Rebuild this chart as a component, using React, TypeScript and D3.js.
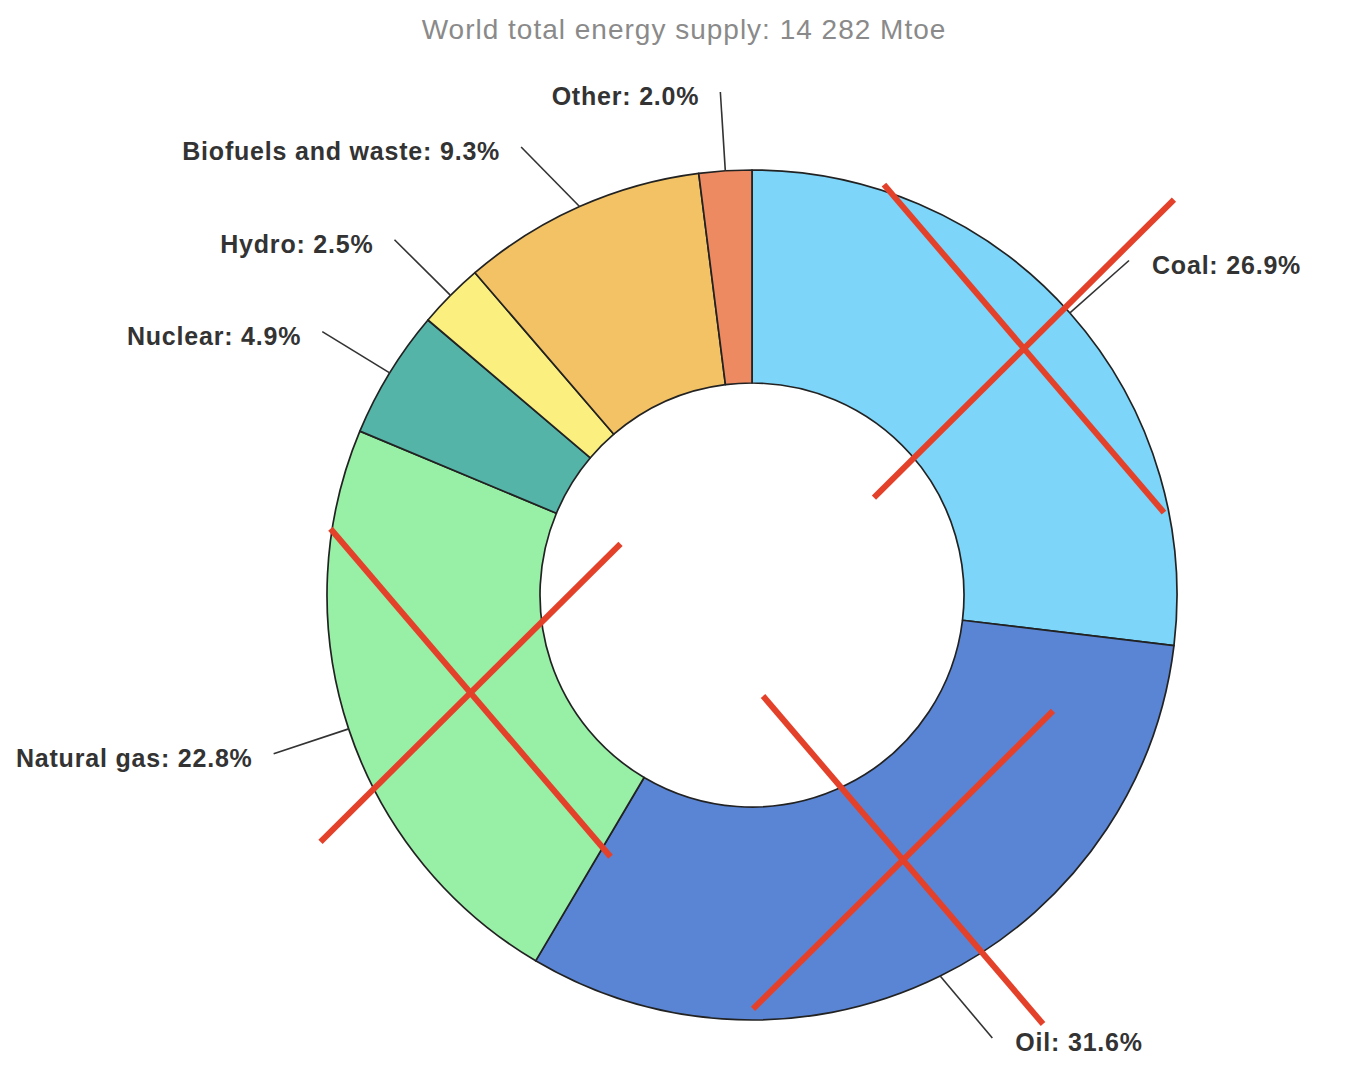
import React from "react";
import * as d3 from "d3";

const title = "World total energy supply: 14 282 Mtoe";
const categories = ["Coal", "Oil", "Natural gas", "Nuclear", "Hydro", "Biofuels and waste", "Other"];
const shares = [26.9, 31.6, 22.8, 4.9, 2.5, 9.3, 2.0];
const colors = ["#7dd5f9", "#5a85d4", "#98f0a6", "#54b4a8", "#fbf07f", "#f2c264", "#ee8a62"];
const crossedCategories = ["Coal", "Oil", "Natural gas"];
const crossRadii = [367, 305, 298];
const crossAngleShiftDeg = [-0.6, -3.4, -0.8];

const W = 1359;
const H = 1080;
const cx = 752;
const cy = 595;
const rOuter = 425;
const rInner = 212;
const rLeader = 504;
const labelSpacing = 55;
const maxLabelDy = 443;
const font = "'Liberation Sans', Arial, sans-serif";

export default function App() {
  const data = categories.map((c, i) => ({ name: c, value: shares[i], color: colors[i] }));
  const pie = d3.pie<any>().sort(null).value((d: any) => d.value);
  const arcs = pie(data);
  const arc = d3.arc<any>().innerRadius(rInner).outerRadius(rOuter);
  const fmt = d3.format(".1f");

  const polar = (a: number, r: number) => [Math.sin(a) * r, -Math.cos(a) * r];

  // leader end points: radial, then de-overlapped vertically along the circle
  const labels = arcs.map((a, i) => {
    const mid = (a.startAngle + a.endAngle) / 2;
    const [sx, sy] = polar(mid, rOuter);
    const [ex, ey] = polar(mid, rLeader);
    return { i, mid, sx, sy, ex, ey, right: Math.sin(mid) > 0 };
  });
  const onCircle = (l: any, y: number) => {
    l.ey = y;
    const dx = Math.sqrt(Math.max(0, rLeader * rLeader - y * y));
    l.ex = l.right ? dx : -dx;
  };
  labels.forEach((l) => {
    if (l.ey > maxLabelDy) onCircle(l, maxLabelDy);
  });
  [true, false].forEach((side) => {
    const group = labels.filter((l) => l.right === side).sort((a, b) => a.ey - b.ey);
    for (let k = 1; k < group.length; k++) {
      if (group[k].ey < group[k - 1].ey + labelSpacing) onCircle(group[k], group[k - 1].ey + labelSpacing);
    }
  });

  return (
    <svg width={W} height={H} style={{ position: "absolute", left: 0, top: 0, background: "#fff" }}>
      <rect width={W} height={H} fill="#fff" />
      <text x={684} y={39} textAnchor="middle" fontFamily={font} fontSize={28} letterSpacing={1.0} fill="#8a8a8a">
        {title}
      </text>
      <g transform={`translate(${cx},${cy})`}>
        {arcs.map((a, i) => (
          <path key={i} d={arc(a) as string} fill={a.data.color} stroke="#222" strokeWidth={1.7} strokeLinejoin="round" />
        ))}
        {labels.map((l) => {
          const d = arcs[l.i].data;
          return (
            <g key={"l" + l.i}>
              <line x1={l.sx} y1={l.sy} x2={l.ex} y2={l.ey} stroke="#333" strokeWidth={1.6} />
              <text
                x={l.ex + (l.right ? 23 : -21)}
                y={l.ey + 4}
                textAnchor={l.right ? "start" : "end"}
                dominantBaseline="central"
                fontFamily={font}
                fontWeight="bold"
                fontSize={25}
                letterSpacing={0.8}
                fill="#333"
              >
                {`${d.name}: ${fmt(d.value)}%`}
              </text>
            </g>
          );
        })}
        {crossedCategories.map((name, k) => {
          const a = arcs[categories.indexOf(name)];
          const mid = (a.startAngle + a.endAngle) / 2 + (crossAngleShiftDeg[k] * Math.PI) / 180;
          const [mx, my] = polar(mid, crossRadii[k]);
          return (
            <g key={"x" + k} stroke="#e4412a" strokeWidth={6}>
              <line x1={mx - 140} y1={my - 164} x2={mx + 140} y2={my + 164} />
              <line x1={mx + 150} y1={my - 149} x2={mx - 150} y2={my + 149} />
            </g>
          );
        })}
      </g>
    </svg>
  );
}
